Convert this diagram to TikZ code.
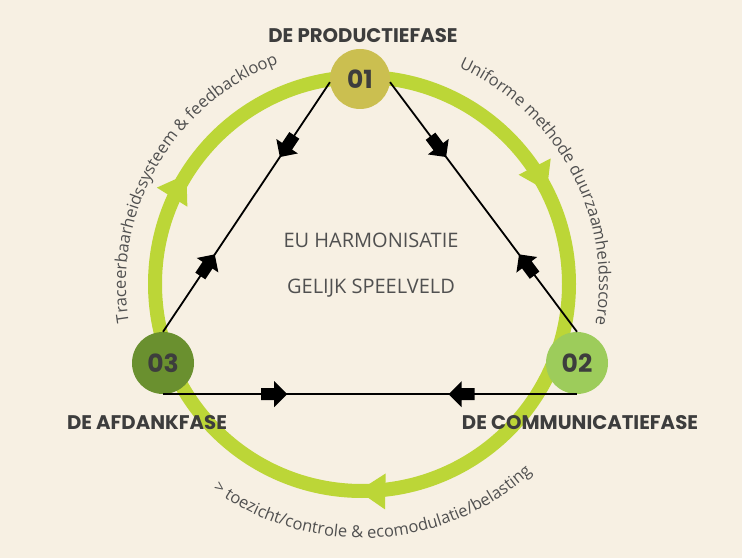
\documentclass[tikz,border=0pt]{standalone}
\usepackage{fontspec}
\setmainfont{Open Sans}
\newfontfamily\popp{Poppins}
\usetikzlibrary{decorations.markings,decorations.text}
\definecolor{bg}{HTML}{F7F0E3}
\definecolor{ringgreen}{HTML}{BCD637}
\definecolor{cone}{HTML}{CBBF50}
\definecolor{ctwo}{HTML}{9DCC5B}
\definecolor{cthree}{HTML}{6A902F}
\definecolor{txt}{HTML}{3D3D3D}
\definecolor{soft}{HTML}{505050}
\newcommand\curvefont{\fontsize{16.5}{19}\selectfont}
\newcommand\fwdarrow{\fill (0,0) -- (-13,13) -- (-13,6) -- (-26,6) -- (-26,-6) -- (-13,-6) -- (-13,-13) -- cycle;}
\newcommand\bckarrow{\fill (0,0) -- (13,13) -- (13,6) -- (26,6) -- (26,-6) -- (13,-6) -- (13,-13) -- cycle;}
\newcommand\ringhead{\fill[ringgreen] (0,0) -- (-27,18) -- (-27,-18) -- cycle;}
\tikzset{
  ring/.style={line width=14pt, draw=ringgreen},
  ringarrows/.style={postaction=decorate, decoration={markings,
     mark=at position 0.1756 with {\ringhead},
     mark=at position 0.5028 with {\ringhead},
     mark=at position 0.8389 with {\ringhead}}},
  link/.style={draw=black, line width=1.8pt, postaction=decorate, decoration={markings,
     mark=at position 0.3 with {\fwdarrow},
     mark=at position 0.69 with {\bckarrow}}},
  phase/.style={circle, inner sep=0pt, font=\popp\bfseries\fontsize{25}{30}\selectfont, text=txt},
  title/.style={font=\popp\bfseries\fontsize{19.7}{24}\selectfont, text=txt, inner sep=0pt},
  centertext/.style={font=\fontsize{20}{24}\selectfont, text=soft, inner sep=0pt},
  curved/.style={decorate, decoration={text along path, text align=center, text color=soft}}
}
\begin{document}
\begin{tikzpicture}[x=1pt,y=1pt]
\fill[bg] (0,0) rectangle (742,558);
\useasboundingbox (0,0) rectangle (742,558);
\coordinate (c) at (362,274);
% ring
\draw[ring, ringarrows] (c) ++(90:207) arc[start angle=90, end angle=-270, radius=207];
% curved labels
\path[curved, decoration={text={|\curvefont|Traceerbaarheidssysteem {\&} feedbackloop}}]
  (c) ++(210:236) arc[start angle=210, end angle=90, radius=236];
\path[curved, decoration={text={|\curvefont|Uniforme methode duurzaamheidsscore}}]
  (c) ++(88:237) arc[start angle=88, end angle=-32, radius=237];
\path[curved, decoration={text={|\curvefont|> toezicht/controle {\&} ecomodulatie/belasting}}]
  (c) ++(213:254) arc[start angle=213, end angle=333, radius=254];
% phase nodes
\node[phase, fill=cone, minimum size=60pt] (n1) at (360,479) {01};
\node[phase, fill=ctwo, minimum size=62pt] (n2) at (577,195) {02};
\node[phase, fill=cthree, minimum size=62pt] (n3) at (163,195) {03};
% connectors
\draw[link] (n1.186) -- (n3.north);
\draw[link] (n1.-6) -- (n2.north);
\draw[link] (n3.south) -- (n2.south);
% titles
\node[title] (t1) at (363,522) {DE PRODUCTIEFASE};
\node[title] (t3) at (147,135) {DE AFDANKFASE};
\node[title] (t2) at (580,135) {DE COMMUNICATIEFASE};
% center
\node[centertext] (eu) at (371,318) {EU HARMONISATIE};
\node[centertext] (gs) at (371,270) {GELIJK SPEELVELD};
\end{tikzpicture}
\end{document}
